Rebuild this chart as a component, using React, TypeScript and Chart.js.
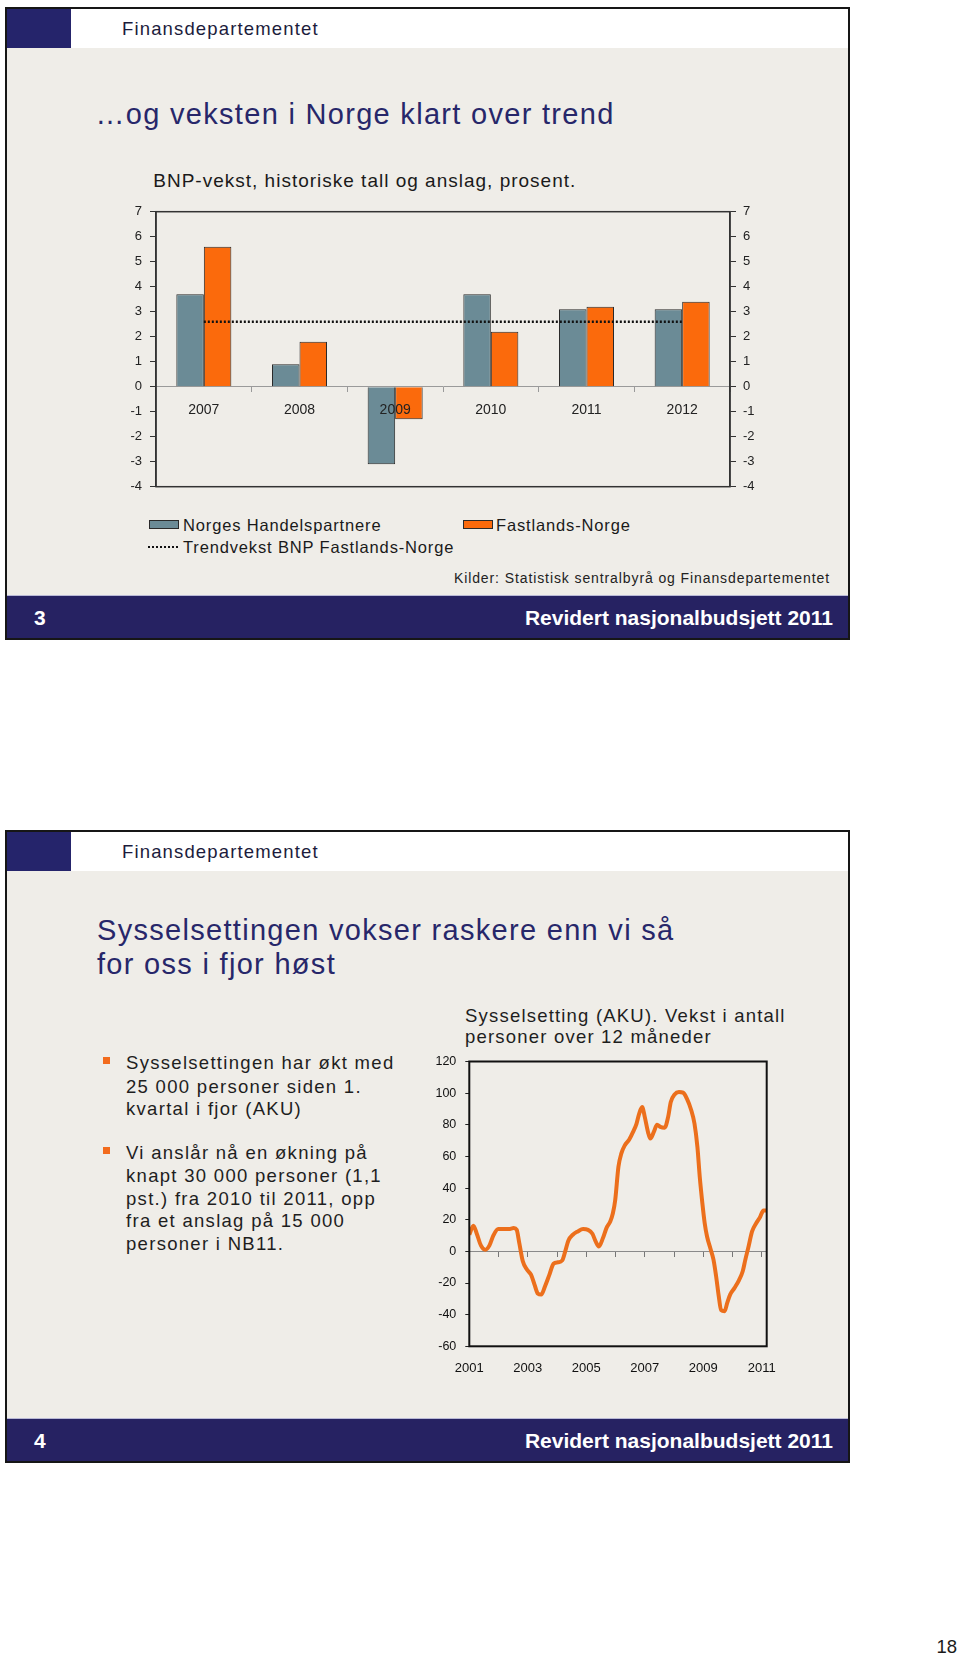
import React, { useEffect, useRef } from "react";
import { Chart, registerables } from "chart.js";

Chart.register(...registerables);

const FONT = "'Liberation Sans', Arial, Helvetica, sans-serif";

// ---- Slide 3: BNP-vekst ----
const bnpYears = ["2007", "2008", "2009", "2010", "2011", "2012"];
const handelspartnere = [3.7, 0.9, -3.1, 3.7, 3.1, 3.1];
const fastlandsNorge = [5.6, 1.8, -1.3, 2.2, 3.2, 3.4];
const trendvekst = [2.6, 2.6, 2.6, 2.6, 2.6, 2.6];
const bnpMin = -4;
const bnpMax = 7;

// ---- Slide 4: Sysselsetting (AKU) ----
const akuTime = [
  2001.0, 2001.14, 2001.25, 2001.4, 2001.55, 2001.69, 2001.82, 2001.99, 2002.17, 2002.35,
  2002.52, 2002.62, 2002.71, 2002.83, 2002.97, 2003.11, 2003.23, 2003.34, 2003.46, 2003.59,
  2003.74, 2003.88, 2004.03, 2004.18, 2004.28, 2004.39, 2004.54, 2004.71, 2004.89, 2005.06,
  2005.21, 2005.32, 2005.43, 2005.57, 2005.69, 2005.82, 2005.91, 2005.99, 2006.1, 2006.2,
  2006.32, 2006.47, 2006.6, 2006.72, 2006.81, 2006.91, 2007.0, 2007.11, 2007.19, 2007.31,
  2007.42, 2007.53, 2007.68, 2007.8, 2007.89, 2008.02, 2008.17, 2008.31, 2008.44, 2008.59,
  2008.7, 2008.8, 2008.88, 2008.97, 2009.05, 2009.13, 2009.24, 2009.35, 2009.44, 2009.53,
  2009.61, 2009.73, 2009.82, 2009.92, 2010.07, 2010.22, 2010.35, 2010.44, 2010.55, 2010.67,
  2010.81, 2010.94, 2011.06, 2011.15,
];
const akuValue = [
  10.5, 16.2, 11.5, 3.6, 1.0, 3.8, 9.9, 14.1, 14.1, 14.1,
  14.7, 13.6, 5.2, -6.3, -11.5, -14.7, -21, -26.6, -27.3, -22,
  -14.7, -7.8, -6.9, -5.7, 0, 6.9, 10.5, 12.6, 14.1, 13.6,
  11.1, 6.3, 3.1, 8.4, 14.7, 18.9, 24.1, 32.5, 53.5, 61.9,
  67.1, 70.7, 75.5, 80.8, 87.1, 91.3, 85, 75.5, 71.3, 75.5,
  80.1, 78.7, 78.2, 85, 94.4, 99.2, 100.7, 100.3, 96.5, 89.2,
  80.8, 66.1, 47.2, 30.4, 17.8, 9.4, 2.1, -5.2, -15.7, -28.3,
  -37.1, -37.8, -32.5, -27.3, -23.1, -18.3, -12.6, -5.2, 3.1, 12.6,
  17.8, 21.6, 25.8, 25.8,
];
const akuLabelYears = [2001, 2003, 2005, 2007, 2009, 2011];
const akuMin = -60;
const akuMax = 120;
const akuXMin = 2001;
const akuXMax = 2011.17;

const framePlugin = {
  id: "frame",
  afterDatasetsDraw(chart: any, _args: any, opts: any) {
    const { ctx, chartArea: a } = chart;
    ctx.save();
    ctx.strokeStyle = opts.color || "#000";
    ctx.lineWidth = opts.width || 1;
    ctx.strokeRect(a.left, a.top, a.right - a.left, a.bottom - a.top);
    ctx.restore();
  },
};

function Txt(props: any) {
  const { x, base, size, spacing = 0, color = "#1a1a1a", weight = 400, align = "left", children } = props;
  const style: any = {
    position: "absolute",
    top: base - 0.8465 * size,
    fontSize: size,
    lineHeight: `${size}px`,
    letterSpacing: spacing,
    color,
    fontWeight: weight,
    fontFamily: FONT,
    whiteSpace: "nowrap",
  };
  if (align === "right") style.right = 960 - x;
  else style.left = x;
  return <div style={style}>{children}</div>;
}

function Slide({ dy, num }: { dy: number; num: string }) {
  return (
    <>
      <div style={{ position: "absolute", left: 5, top: 7 + dy, width: 845, height: 633, border: "2px solid #161616", boxSizing: "border-box", background: "#efede8" }} />
      <div style={{ position: "absolute", left: 7, top: 9 + dy, width: 841, height: 39, background: "#ffffff" }} />
      <div style={{ position: "absolute", left: 7, top: 9 + dy, width: 64, height: 39, background: "#25246b" }} />
      <Txt x={122} base={36 + dy} size={18.5} spacing={1.15} color="#1c1c3c">Finansdepartementet</Txt>
      <div style={{ position: "absolute", left: 7, top: 595 + dy, width: 841, height: 43, background: "#262262", borderTop: "1px solid #b9b9d6", boxSizing: "border-box" }} />
      <Txt x={34} base={625 + dy} size={21} weight={700} color="#ffffff">{num}</Txt>
      <Txt x={833} base={625 + dy} size={21} weight={700} color="#ffffff" align="right">Revidert nasjonalbudsjett 2011</Txt>
    </>
  );
}

function BnpChart() {
  const ref = useRef<HTMLCanvasElement>(null);
  useEffect(() => {
    const tickFont = { family: FONT, size: 13 };
    const chart = new Chart(ref.current as HTMLCanvasElement, {
      type: "bar",
      data: {
        labels: bnpYears,
        datasets: [
          {
            type: "line",
            label: "Trendvekst BNP Fastlands-Norge",
            data: trendvekst,
            borderColor: "#111111",
            borderWidth: 2.5,
            borderDash: [2, 2],
            pointRadius: 0,
            fill: false,
            order: 0,
          } as any,
          {
            label: "Norges Handelspartnere",
            data: handelspartnere,
            backgroundColor: "#6b8b96",
            borderColor: "#2a2a2a",
            borderWidth: 1,
            categoryPercentage: 0.575,
            barPercentage: 1,
            order: 1,
          },
          {
            label: "Fastlands-Norge",
            data: fastlandsNorge,
            backgroundColor: "#fb6a0c",
            borderColor: "#2a2a2a",
            borderWidth: 1,
            categoryPercentage: 0.575,
            barPercentage: 1,
            order: 1,
          },
        ],
      },
      options: {
        responsive: false,
        animation: false,
        devicePixelRatio: 1,
        layout: { padding: { top: 16.7, bottom: 18.3, left: 0, right: 0 } },
        plugins: {
          legend: { display: false },
          tooltip: { enabled: false },
          frame: { color: "#333333", width: 1.5 },
        } as any,
        scales: {
          x: {
            type: "category",
            position: { y: 0 } as any,
            offset: true,
            grid: { offset: true, drawOnChartArea: false, drawTicks: true, tickLength: 5, color: "#9a9a9a" },
            border: { display: true, color: "#9a9a9a", width: 1 },
            ticks: { z: 2, font: { family: FONT, size: 14 }, color: "#222222", padding: 10, maxRotation: 0, autoSkip: false },
          },
          y: {
            type: "linear",
            position: "left",
            min: bnpMin,
            max: bnpMax,
            ticks: { stepSize: 1, font: tickFont, color: "#222222", padding: 8 },
            grid: { drawOnChartArea: false, drawTicks: true, tickLength: 6, color: "#333333" },
            border: { display: true, color: "#333333", width: 1.5 },
            afterFit: (s: any) => { s.width = 56; },
          },
          y2: {
            type: "linear",
            position: "right",
            min: bnpMin,
            max: bnpMax,
            ticks: { stepSize: 1, font: tickFont, color: "#222222", padding: 7 },
            grid: { drawOnChartArea: false, drawTicks: true, tickLength: 6, color: "#333333" },
            border: { display: true, color: "#333333", width: 1.5 },
            afterFit: (s: any) => { s.width = 90; },
          },
        },
      },
      plugins: [framePlugin],
    });
    return () => chart.destroy();
  }, []);
  return <canvas ref={ref} width={720} height={310} style={{ position: "absolute", left: 100, top: 195, width: 720, height: 310 }} />;
}

function AkuChart() {
  const ref = useRef<HTMLCanvasElement>(null);
  useEffect(() => {
    const points = akuTime.map((t, i) => ({ x: t, y: akuValue[i] }));
    const chart = new Chart(ref.current as HTMLCanvasElement, {
      type: "line",
      data: {
        datasets: [
          {
            label: "Sysselsetting (AKU)",
            data: points,
            borderColor: "#ec6f1c",
            borderWidth: 4,
            pointRadius: 0,
            cubicInterpolationMode: "monotone",
            fill: false,
          },
        ],
      },
      options: {
        responsive: false,
        animation: false,
        devicePixelRatio: 1,
        layout: { padding: { top: 15.3, right: 33.3, left: 0, bottom: 0 } },
        plugins: {
          legend: { display: false },
          tooltip: { enabled: false },
          frame: { color: "#111111", width: 2 },
        } as any,
        scales: {
          x: {
            type: "linear",
            position: "bottom",
            min: akuXMin,
            max: akuXMax,
            grid: { display: false, drawTicks: false },
            border: { display: false },
            ticks: {
              stepSize: 1,
              includeBounds: false,
              autoSkip: false,
              maxRotation: 0,
              padding: 14,
              font: { family: FONT, size: 13 },
              color: "#111111",
              callback: (v: any) => {
                const y = Math.round(Number(v));
                return akuLabelYears.includes(y) ? String(y) : "";
              },
            },
            afterFit: (s: any) => { s.height = 43.7; },
          },
          x0: {
            type: "linear",
            position: { y: 0 } as any,
            min: akuXMin,
            max: akuXMax,
            grid: { drawOnChartArea: false, drawTicks: true, tickLength: 5, color: "#777777" },
            border: { display: true, color: "#8a8a8a", width: 1 },
            ticks: { display: false, stepSize: 1, includeBounds: false, autoSkip: false },
          },
          y: {
            type: "linear",
            position: "left",
            min: akuMin,
            max: akuMax,
            ticks: { stepSize: 20, font: { family: FONT, size: 12.5 }, color: "#111111", padding: 9 },
            grid: { drawOnChartArea: false, drawTicks: true, tickLength: 4, color: "#222222" },
            border: { display: false },
            afterFit: (s: any) => { s.width = 49.3; },
          },
        },
      },
      plugins: [framePlugin],
    });
    return () => chart.destroy();
  }, []);
  return <canvas ref={ref} width={380} height={345} style={{ position: "absolute", left: 420, top: 1045, width: 380, height: 345 }} />;
}

export default function App() {
  const d2 = 823;
  const bulletStyle = (top: number): any => ({ position: "absolute", left: 103, top, width: 6.5, height: 6.5, background: "#f26b1d" });
  const bText = { size: 18.5, spacing: 1.3, color: "#1e1e1e" };
  const titleText = { size: 29, spacing: 1.3, color: "#27276a" };
  return (
    <div style={{ position: "absolute", left: 0, top: 0, width: 960, height: 1658, background: "#ffffff", fontFamily: FONT }}>
      {/* Slide 3 */}
      <Slide dy={0} num="3" />
      <Txt x={95.5} base={125} {...titleText}>…og veksten i Norge klart over trend</Txt>
      <Txt x={153.3} base={187} size={19} spacing={1} color="#1a1a1a">BNP-vekst, historiske tall og anslag, prosent.</Txt>
      <BnpChart />
      <div style={{ position: "absolute", left: 149, top: 520, width: 30, height: 9, background: "#6b8b96", border: "1px solid #2a2a2a", boxSizing: "border-box" }} />
      <Txt x={183} base={531} size={16.5} spacing={0.85}>Norges Handelspartnere</Txt>
      <div style={{ position: "absolute", left: 463, top: 520, width: 30, height: 9, background: "#fb6a0c", border: "1px solid #2a2a2a", boxSizing: "border-box" }} />
      <Txt x={496} base={531} size={16.5} spacing={0.85}>Fastlands-Norge</Txt>
      <div style={{ position: "absolute", left: 148, top: 546, width: 30, height: 0, borderTop: "2px dotted #111111" }} />
      <Txt x={183} base={553} size={16.5} spacing={0.85}>Trendvekst BNP Fastlands-Norge</Txt>
      <Txt x={830} base={583} size={14} spacing={0.9} color="#222222" align="right">Kilder: Statistisk sentralbyrå og Finansdepartementet</Txt>

      {/* Slide 4 */}
      <Slide dy={d2} num="4" />
      <Txt x={97} base={941} {...titleText}>Sysselsettingen vokser raskere enn vi så</Txt>
      <Txt x={97} base={975} {...titleText}>for oss i fjor høst</Txt>

      <div style={bulletStyle(1057)} />
      <Txt x={126} base={1070} {...bText}>Sysselsettingen har økt med</Txt>
      <Txt x={126} base={1093.3} {...bText}>25 000 personer siden 1.</Txt>
      <Txt x={126} base={1115.4} {...bText}>kvartal i fjor (AKU)</Txt>

      <div style={bulletStyle(1147)} />
      <Txt x={126} base={1159.9} {...bText}>Vi anslår nå en økning på</Txt>
      <Txt x={126} base={1183.1} {...bText}>knapt 30 000 personer (1,1</Txt>
      <Txt x={126} base={1205.3} {...bText}>pst.) fra 2010 til 2011, opp</Txt>
      <Txt x={126} base={1227.5} {...bText}>fra et anslag på 15 000</Txt>
      <Txt x={126} base={1250.8} {...bText}>personer i NB11.</Txt>

      <Txt x={465} base={1022.7} size={18.5} spacing={1.2} color="#1e1e1e">Sysselsetting (AKU). Vekst i antall</Txt>
      <Txt x={465} base={1043.3} size={18.5} spacing={1.2} color="#1e1e1e">personer over 12 måneder</Txt>
      <AkuChart />

      <Txt x={957} base={1654} size={18.5} color="#1a1a1a" align="right">18</Txt>
    </div>
  );
}
